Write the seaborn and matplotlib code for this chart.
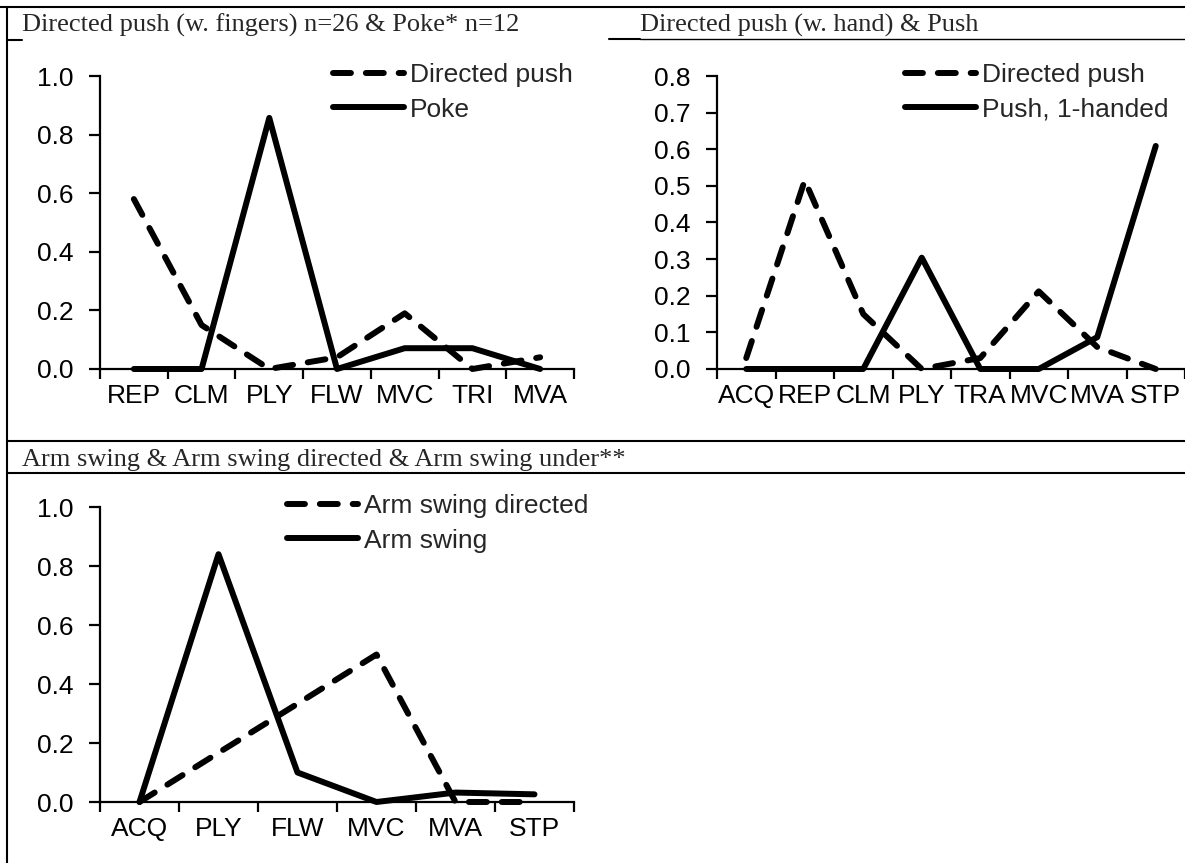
import numpy as np
import pandas as pd
import matplotlib
matplotlib.use("Agg")
import matplotlib.pyplot as plt
from matplotlib.lines import Line2D
import seaborn as sns

# panel 1: directed push (fingers) vs poke
cats_1 = ['REP', 'CLM', 'PLY', 'FLW', 'MVC', 'TRI', 'MVA']
directed_push_1 = [0.58, 0.15, 0.0, 0.04, 0.19, 0.0, 0.04]
poke = [0.0, 0.0, 0.857, 0.0, 0.071, 0.071, 0.0]

# panel 2: directed push (hand) vs push 1-handed
cats_2 = ['ACQ', 'REP', 'CLM', 'PLY', 'TRA', 'MVC', 'MVA', 'STP']
directed_push_2 = [0.03, 0.515, 0.15, 0.0, 0.03, 0.212, 0.06, 0.0]
push_1handed = [0.0, 0.0, 0.0, 0.304, 0.0, 0.0, 0.087, 0.609]

# panel 3: arm swing
cats_3 = ['ACQ', 'PLY', 'FLW', 'MVC', 'MVA', 'STP']
arm_swing_directed = [0.0, 0.167, 0.333, 0.5, 0.0, 0.0]
arm_swing = [0.0, 0.84, 0.10, 0.0, 0.032, 0.026]

titles = ['Directed push (w. fingers) n=26 & Poke* n=12',
          'Directed push (w. hand) & Push',
          'Arm swing & Arm swing directed & Arm swing under**']

W, H = 1185, 863
FS = 19
LW = 4.3

sns.set_theme(style='ticks')
plt.rcParams['font.family'] = ['Liberation Sans', 'DejaVu Sans']
plt.rcParams['axes.edgecolor'] = 'black'
plt.rcParams['xtick.color'] = 'black'
plt.rcParams['ytick.color'] = 'black'

fig = plt.figure(figsize=(W / 100, H / 100), dpi=100)


def fx(px):
    return px / W


def fy(py):
    return 1 - py / H


def panel(rect, cats, dashed, solid, names, ymax, ystep, legend_xy):
    left, top, right, bottom = rect
    ax = fig.add_axes([fx(left), fy(bottom), fx(right) - fx(left), fy(top) - fy(bottom)])
    n = len(cats)
    df = pd.DataFrame({
        'pos': list(range(n)) * 2,
        'value': dashed + solid,
        'series': [names[0]] * n + [names[1]] * n,
    })
    sns.lineplot(data=df, x='pos', y='value', style='series', style_order=names,
                 dashes=[(3, 2.5), ''], color='black', linewidth=LW,
                 sort=False, legend=False, ax=ax)
    for ln in ax.lines:
        ln.set_dash_capstyle('round')
        ln.set_solid_capstyle('round')
        ln.set_solid_joinstyle('round')
        ln.set_dash_joinstyle('round')
        ln.set_clip_on(False)
        ln.set_zorder(3)

    ax.set_xlim(-0.5, n - 0.5)
    ax.set_ylim(0, ymax)
    ax.set_xticks(np.arange(n + 1) - 0.5)
    ax.set_xticklabels([])
    ax.set_xticks(np.arange(n), minor=True)
    ax.set_xticklabels(cats, minor=True)
    ax.tick_params(axis='x', which='major', direction='out', length=7, width=1.6)
    ax.tick_params(axis='x', which='minor', length=0, pad=11, labelsize=FS)
    yt = np.arange(0, ymax + ystep / 2, ystep)
    ax.set_yticks(yt)
    ax.set_yticklabels(['{:.1f}'.format(v) for v in yt])
    ax.tick_params(axis='y', direction='out', length=8, width=1.6, pad=11, labelsize=FS)
    ax.set_xlabel('')
    ax.set_ylabel('')
    for s in ['top', 'right']:
        ax.spines[s].set_visible(False)
    for s in ['left', 'bottom']:
        ax.spines[s].set_linewidth(1.6)
        ax.spines[s].set_color('black')
    ax.patch.set_alpha(0)

    ax.legend(handles=ax.lines[:2], labels=names, loc='upper left',
              bbox_to_anchor=(fx(legend_xy[0]), fy(legend_xy[1])),
              bbox_transform=fig.transFigure, frameon=False, fontsize=FS,
              handlelength=2.7, handletextpad=0.2, borderpad=0,
              borderaxespad=0, labelspacing=0.4)
    return ax


panel((100, 76, 574, 369), cats_1, directed_push_1, poke,
      ['Directed push', 'Poke'], 1.0, 0.2, (333, 63))
panel((717, 76, 1185, 369), cats_2, directed_push_2, push_1handed,
      ['Directed push', 'Push, 1-handed'], 0.8, 0.1, (905, 63))
panel((100, 507, 574, 802), cats_3, arm_swing_directed, arm_swing,
      ['Arm swing directed', 'Arm swing'], 1.0, 0.2, (287, 494))


# table borders
def rule(x0, y0, x1, y1, lw=1.5):
    fig.add_artist(Line2D([fx(x0), fx(x1)], [fy(y0), fy(y1)], color='black',
                          linewidth=lw, transform=fig.transFigure))


rule(0, 7, W, 7)
rule(7, 7, 7, H)
rule(7, 40, 22, 40)
rule(609, 39, 640, 39)
rule(640, 39, W, 39, lw=1.0)
rule(7, 441, W, 441)
rule(7, 473, W, 473)

serif = ['Liberation Serif', 'DejaVu Serif']
fig.text(fx(22), fy(32), titles[0], family=serif, fontsize=FS, va='baseline')
fig.text(fx(640), fy(32), titles[1], family=serif, fontsize=FS, va='baseline')
fig.text(fx(22), fy(466), titles[2], family=serif, fontsize=FS, va='baseline')

fig.savefig('out.png', dpi=100)
